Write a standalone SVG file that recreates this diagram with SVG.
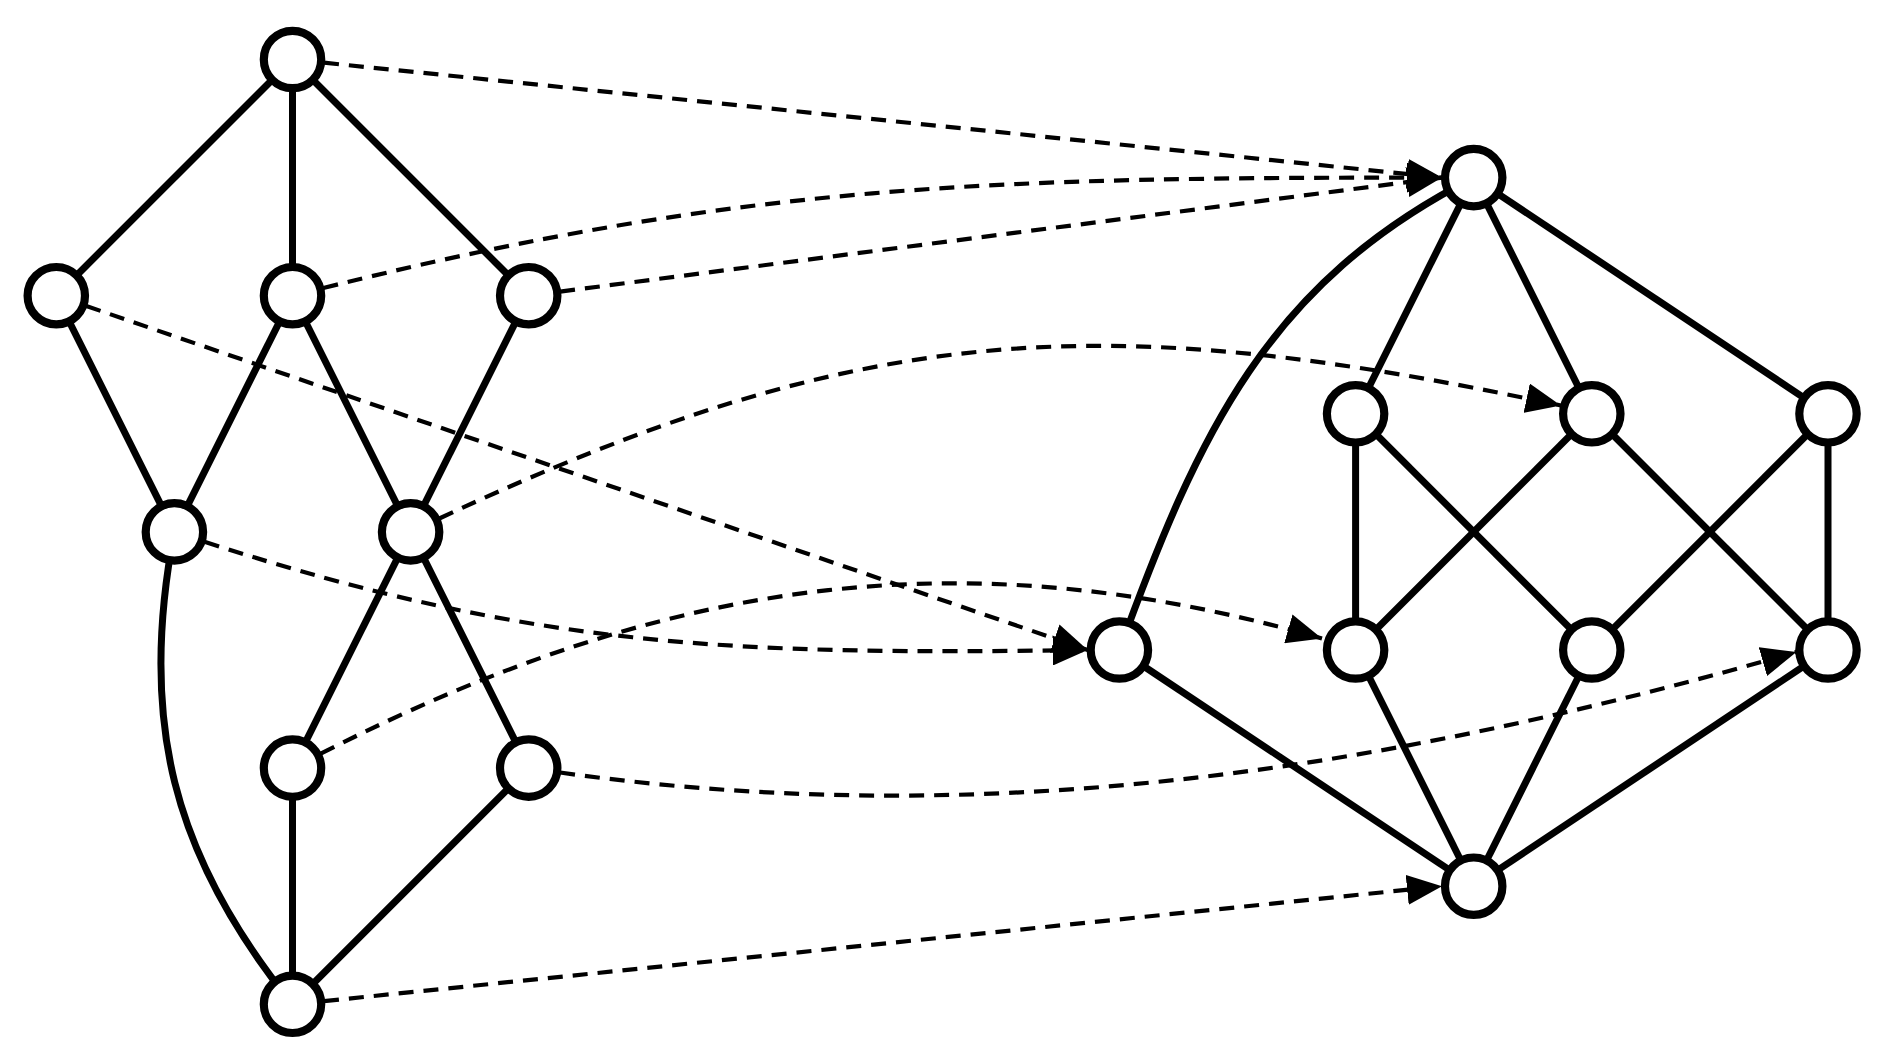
<svg xmlns="http://www.w3.org/2000/svg" width="1892" height="1056" viewBox="0 0 1892 1056">
<style>
.edge{fill:none;stroke:#000;stroke-width:7}
.map{fill:none;stroke:#000;stroke-width:4.2;stroke-dasharray:15 10;marker-end:url(#ah)}
.node circle{fill:#fff;stroke:#000;stroke-width:8.2}
</style>
<defs>
<marker id="ah" markerUnits="userSpaceOnUse" viewBox="0 0 35 30" refX="35" refY="15" markerWidth="35" markerHeight="30" orient="auto">
<path d="M0,0 L35,15 L0,30 Z" fill="#000"/>
</marker>
</defs>
<rect width="1892" height="1056" fill="#fff"/>
<g id="edges">
<path class="edge" d="M292.5,59.5 L56.3,295.7"/>
<path class="edge" d="M292.5,59.5 L292.5,295.7"/>
<path class="edge" d="M292.5,59.5 L528.7,295.7"/>
<path class="edge" d="M56.3,295.7 L174.4,531.9"/>
<path class="edge" d="M292.5,295.7 L174.4,531.9"/>
<path class="edge" d="M292.5,295.7 L410.6,531.9"/>
<path class="edge" d="M528.7,295.7 L410.6,531.9"/>
<path class="edge" d="M410.6,531.9 L292.5,768.1"/>
<path class="edge" d="M410.6,531.9 L528.7,768.1"/>
<path class="edge" d="M292.5,768.1 L292.5,1004.3"/>
<path class="edge" d="M528.7,768.1 L292.5,1004.3"/>
<path class="edge" d="M174.4,531.9 C138.2,719.1 172.4,856.2 292.5,1004.3"/>
<path class="edge" d="M1473.7,177.6 L1355.6,413.8"/>
<path class="edge" d="M1473.7,177.6 L1591.8,413.8"/>
<path class="edge" d="M1473.7,177.6 L1828,413.8"/>
<path class="edge" d="M1119.4,650 C1198.5,432.7 1267.7,282.6 1473.7,177.6"/>
<path class="edge" d="M1355.6,413.8 L1355.6,650"/>
<path class="edge" d="M1355.6,413.8 L1591.8,650"/>
<path class="edge" d="M1591.8,413.8 L1355.6,650"/>
<path class="edge" d="M1591.8,413.8 L1828,650"/>
<path class="edge" d="M1828,413.8 L1591.8,650"/>
<path class="edge" d="M1828,413.8 L1828,650"/>
<path class="edge" d="M1119.4,650 L1473.7,886.2"/>
<path class="edge" d="M1355.6,650 L1473.7,886.2"/>
<path class="edge" d="M1591.8,650 L1473.7,886.2"/>
<path class="edge" d="M1828,650 L1473.7,886.2"/>
</g>
<g id="connectors">
<path class="map" d="M324,62.7 L1442,177.6"/>
<path class="map" d="M323.3,288 C750.2,181.6 1002,177.6 1442,177.6"/>
<path class="map" d="M560.1,291.6 L1442,177.6"/>
<path class="map" d="M86.3,306 L1087.7,650"/>
<path class="map" d="M204.5,541.7 C535.5,649.2 739.7,655 1087.7,650"/>
<path class="map" d="M439.3,518.5 C865.3,319.9 1101.2,307.8 1560.9,405.5"/>
<path class="map" d="M320.7,753.7 C659.3,581.2 956.7,533.8 1322,638.5"/>
<path class="map" d="M560.1,772.5 C1005.7,835.1 1412,762.3 1796.5,652"/>
<path class="map" d="M324,1001.1 L1442,886.2"/>
</g>
<g id="nA" class="node"><circle cx="292.5" cy="59.5" r="28.7"/></g>
<g id="nB" class="node"><circle cx="56.3" cy="295.7" r="28.7"/></g>
<g id="nC" class="node"><circle cx="292.5" cy="295.7" r="28.7"/></g>
<g id="nD" class="node"><circle cx="528.7" cy="295.7" r="28.7"/></g>
<g id="nE" class="node"><circle cx="174.4" cy="531.9" r="28.7"/></g>
<g id="nF" class="node"><circle cx="410.6" cy="531.9" r="28.7"/></g>
<g id="nG" class="node"><circle cx="292.5" cy="768.1" r="28.7"/></g>
<g id="nH" class="node"><circle cx="528.7" cy="768.1" r="28.7"/></g>
<g id="nI" class="node"><circle cx="292.5" cy="1004.3" r="28.7"/></g>
<g id="nJ" class="node"><circle cx="1473.7" cy="177.6" r="28.7"/></g>
<g id="nK" class="node"><circle cx="1355.6" cy="413.8" r="28.7"/></g>
<g id="nL" class="node"><circle cx="1591.8" cy="413.8" r="28.7"/></g>
<g id="nM" class="node"><circle cx="1828" cy="413.8" r="28.7"/></g>
<g id="nN" class="node"><circle cx="1119.4" cy="650" r="28.7"/></g>
<g id="nO" class="node"><circle cx="1355.6" cy="650" r="28.7"/></g>
<g id="nP" class="node"><circle cx="1591.8" cy="650" r="28.7"/></g>
<g id="nQ" class="node"><circle cx="1828" cy="650" r="28.7"/></g>
<g id="nR" class="node"><circle cx="1473.7" cy="886.2" r="28.7"/></g>
</svg>
